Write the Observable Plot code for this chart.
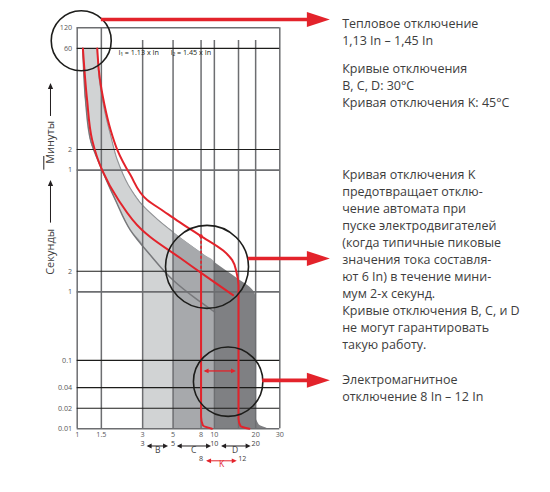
<!DOCTYPE html>
<html><head><meta charset="utf-8">
<script src="https://cdn.jsdelivr.net/npm/d3@7"></script>
<script src="https://cdn.jsdelivr.net/npm/@observablehq/plot@0.6"></script>
<style>
html,body{margin:0;padding:0;background:#fff;}
#chart{width:550px;height:492px;}
</style></head><body><div id="chart"></div>
<script>
// ---------------- data ----------------
const yTickValues = [0.01, 0.02, 0.04, 0.1, 1, 2, 60, 120, 3600, 7200];
const yTickLabels = ["0.01", "0.02", "0.04", "0.1", "1", "2", "1", "2", "60", "120"];
const xTickValues = [1, 1.5, 3, 5, 8, 10, 20, 30];
const xTickLabels = ["1", "1.5", "3", "5", "8", "10", "20", "30"];
const vGrid = [1, 1.5, 3, 5, 8, 10, 15, 20, 30];
const vGridFull = [1, 1.5, 30];
const vGridTop = 4700;
const hGridDark = [0.02, 0.04, 0.1, 2, 120, 3600];
const hGridGrey = [0.01, 1, 60, 7200];

// thermal band edges: seconds vs current multiple (x In)
const thermLoT = [3600, 641, 166, 60, 22, 8.0, 3.45, 1.48, 0.81, 0.505];
const thermLoX = [1.10, 1.15, 1.25, 1.52, 1.90, 2.44, 3.41, 5.01, 7.25, 10.1];
const thermHiT = [3600, 1260, 457, 197, 85, 36.5, 18.6, 11.2, 7.48, 3.81, 2.08, 1.17, 0.75];
const thermHiX = [1.40, 1.45, 1.58, 1.75, 1.96, 2.36, 2.98, 3.90, 5.0, 7.88, 12.0, 18.2, 21];

// magnetic ranges of B, C, D
const curveNames = ["B", "C", "D"];
const magLo = [3, 5, 10];
const magHi = [5, 10, 20];
const dFootT = [0.016, 0.0115, 0.01];
const dFootX = [20, 21.2, 25];

// K curve (red)
const kLoT = [3600, 641, 166, 60, 22, 8.0, 6.32, 3.12, 1.64, 0.895];
const kLoX = [1.10, 1.18, 1.285, 1.52, 2.0, 2.97, 3.41, 5.64, 8.86, 13.7];
const kHiT = [3600, 1489, 542, 233, 119, 51.2, 22, 15.2, 11.0, 6.65, 4.01, 2.91, 1.94, 1.25, 0.014, 0.011, 0.01];
const kHiX = [1.40, 1.45, 1.58, 1.75, 1.96, 2.44, 3.24, 4.24, 5.36, 7.88, 11.6, 13.5, 14.5, 15, 15, 15.5, 18.0];
const kMagLo = 8;
const kFootT = [0.015, 0.0112, 0.01];
const kFootX = [8, 8.25, 9.6];
const kRangeDraw = [8, 16];
const kRangeLabels = ["8", "12"];

// annotations
const circles = [{x: 1.07, t: 4655}, {x: 8.84, t: 2.32}, {x: 12.6, t: 0.0488}];
const circleR = [30, 41.5, 34.7];
const calloutArrows = [{t: 9500, from: 1.5}, {t: 3.08, from: 17.7}, {t: 0.051, from: 22.5}];
const calloutTip = 69.5, calloutShaftEnd = 50;
const textBlocks = [
  {text: "Тепловое отключение\n1,13 In – 1,45 In", dy: -12.1},
  {text: "Кривые отключения\nB, C, D: 30°C\nКривая отключения K: 45°C", dy: 33.3},
  {text: "Кривая отключения K\nпредотвращает отклю-\nчение автомата при\nпуске электродвигателей\n(когда типичные пиковые\nзначения тока составля-\nют 6 In) в течение мини-\nмум 2-х секунд.\nКривые отключения B, C, и D\nне могут гарантировать\nтакую работу.", dy: 138.9},
  {text: "Электромагнитное\nотключение 8 In – 12 In", dy: 343.9}
];

// ---------------- helpers ----------------
const lg = Math.log10;
function at(ts, xs, t) {
  if (t >= ts[0]) return xs[0];
  for (let i = 0; i < ts.length - 1; i++) {
    if (t <= ts[i] && t >= ts[i + 1]) {
      const f = (lg(ts[i]) - lg(t)) / (lg(ts[i]) - lg(ts[i + 1]));
      return 10 ** (lg(xs[i]) + f * (lg(xs[i + 1]) - lg(xs[i])));
    }
  }
  return Infinity;
}
function cross(ts, xs, cap) {
  for (let i = 0; i < ts.length - 1; i++) {
    if (xs[i] <= cap && xs[i + 1] >= cap) {
      const f = (lg(cap) - lg(xs[i])) / (lg(xs[i + 1]) - lg(xs[i]));
      return 10 ** (lg(ts[i]) + f * (lg(ts[i + 1]) - lg(ts[i])));
    }
  }
  return null;
}
function bandRows(i) {
  const lo = magLo[i], hi = magHi[i];
  const set = new Set([...thermLoT, ...thermHiT, 0.01]);
  const a = cross(thermLoT, thermLoX, lo), b = cross(thermHiT, thermHiX, hi);
  if (a) set.add(a);
  if (b) set.add(b);
  let rows = [...set].filter(t => t <= 3600 && t >= 0.01).sort((p, q) => q - p)
    .map(t => ({t, x1: Math.min(at(thermLoT, thermLoX, t), lo), x2: Math.min(at(thermHiT, thermHiX, t), hi)}));
  if (curveNames[i] === "D") {
    rows = rows.filter(r => r.t > dFootT[0]);
    dFootT.forEach((t, j) => rows.push({t, x1: lo, x2: dFootX[j]}));
  }
  return rows;
}
const pts = (ts, xs) => ts.map((t, i) => ({t, x: xs[i]}));

const RED = "#e3232b";
const headR = (len, half) => ({draw(c) { c.moveTo(0, 0); c.lineTo(-len, -half); c.lineTo(-len, half); c.closePath(); }});
const headL = (len, half) => ({draw(c) { c.moveTo(0, 0); c.lineTo(len, -half); c.lineTo(len, half); c.closePath(); }});
const headU = (len, half) => ({draw(c) { c.moveTo(0, 0); c.lineTo(-half, len); c.lineTo(half, len); c.closePath(); }});

function dblArrow(xa, xb, insA, insB, y, dy, color, w) {
  return [
    Plot.ruleY([y], {x1: xa, x2: xb, insetLeft: insA + 2, insetRight: insB + 2, dy, stroke: color, strokeWidth: w}),
    Plot.dot([xa], {x: d => d, y: y, dx: insA, dy, r: 3, symbol: headL(5, 2.4), fill: color, stroke: "none"}),
    Plot.dot([xb], {x: d => d, y: y, dx: -insB, dy, r: 3, symbol: headR(5, 2.4), fill: color, stroke: "none"})
  ];
}

const bandColors = ["#d1d3d4", "#a7a9ac", "#7f8083"];
const kLoCross8 = cross(kLoT, kLoX, kMagLo);
const kHiCross8 = cross(kHiT, kHiX, kMagLo);
const hiCross5 = cross(thermHiT, thermHiX, magLo[1]);

const marks = [];
// bands: D, C, B
[2, 1, 0].forEach(i => {
  marks.push(Plot.areaX(bandRows(i), {y: "t", x1: "x1", x2: "x2", fill: bandColors[i], curve: "monotone-y"}));
});
// thermal edge strokes
marks.push(Plot.line(pts(thermLoT, thermLoX), {x: "x", y: "t", stroke: "#77787b", strokeWidth: 1.5, curve: "monotone-y"}));
marks.push(Plot.line(pts(thermHiT, thermHiX).filter(d => d.t > hiCross5).concat([{t: hiCross5, x: magLo[1]}]), {x: "x", y: "t", stroke: "#939598", strokeWidth: 1.1, curve: "monotone-y"}));
// grid
marks.push(Plot.ruleX(vGrid, {x: d => d, y1: 0.01, y2: d => vGridFull.includes(d) ? 7200 : vGridTop, stroke: "#6d6e71", strokeWidth: 1.5}));
marks.push(Plot.ruleY(hGridGrey, {y: d => d, x1: 1, x2: 30, stroke: "#6d6e71", strokeWidth: 1.6}));
marks.push(Plot.ruleY(hGridDark, {y: d => d, x1: 1, x2: 30, stroke: "#1d1d1b", strokeWidth: 1.1}));
// tick labels
marks.push(Plot.text(yTickValues, {x: 1, y: d => d, dx: -5, text: (d, i) => yTickLabels[i], textAnchor: "end", fontSize: 7.2, fill: "#58595b"}));
marks.push(Plot.text(xTickValues, {x: d => d, frameAnchor: "bottom", dy: 8, text: (d, i) => xTickLabels[i], fontSize: 7.2, fill: "#58595b"}));
// K curve
marks.push(Plot.line(pts(kLoT, kLoX), {x: "x", y: "t", stroke: RED, strokeWidth: 2, curve: "monotone-y"}));
marks.push(Plot.line(pts(kHiT, kHiX), {x: "x", y: "t", stroke: RED, strokeWidth: 2, curve: "monotone-y"}));
marks.push(Plot.ruleX([kMagLo], {x: d => d, y1: kHiCross8, y2: kLoCross8, stroke: RED, strokeWidth: 1.6, strokeDasharray: "3,2"}));
marks.push(Plot.line([{t: kLoCross8, x: kMagLo}, ...pts(kFootT, kFootX)], {x: "x", y: "t", stroke: RED, strokeWidth: 2, curve: "monotone-y"}));
marks.push(Plot.dot([kMagLo], {x: d => d, y: kHiCross8, r: 1.8, fill: RED, stroke: "none"}));
// red double arrow within bottom circle
marks.push(...dblArrow(8, 15, 2.5, 2.5, 0.07, 0, RED, 1.3));
// labels I1, I2
marks.push(Plot.text(["I₁ = 1.13 x In", "I₂ = 1.45 x In"], {x: (d, i) => [2.0, 4.8][i], y: 3150, text: d => d, textAnchor: "start", fontSize: 7.2, fill: "#231f20"}));
// circles
circles.forEach((c, i) => marks.push(Plot.dot([c], {x: "x", y: "t", r: circleR[i], stroke: "#1d1d1b", strokeWidth: 1.6, fill: "none"})));
// callout arrows
calloutArrows.forEach(a => {
  marks.push(Plot.ruleY([a], {y: "t", x1: a.from, x2: calloutShaftEnd, stroke: RED, strokeWidth: 3.6}));
  marks.push(Plot.dot([a], {x: calloutTip, y: "t", r: 5, symbol: headR(23, 7.5), fill: RED, stroke: "none"}));
});
// right text
textBlocks.forEach(b => marks.push(Plot.text([b], {text: "text", frameAnchor: "top-right", dx: 62.4, dy: b.dy, textAnchor: "start", lineAnchor: "top", lineHeight: 1.36, fontSize: 12.5, fill: "#3d3d3d"})));
// y-axis titles and arrows
marks.push(Plot.text(["Секунды"], {x: 1, y: 3.85, dx: -26.7, rotate: -90, text: d => d, fontSize: 11, fill: "#414042"}));
marks.push(Plot.text(["Минуты"], {x: 1, y: 153, dx: -26.7, rotate: -90, text: d => d, fontSize: 11, fill: "#414042"}));
marks.push(Plot.ruleX([1], {y1: 10.1, y2: 40, dx: -26.7, stroke: "#231f20", strokeWidth: 1}));
marks.push(Plot.dot([1], {x: d => d, y: 43.2, dx: -26.7, r: 3, symbol: headU(6, 2.6), fill: "#231f20", stroke: "none"}));
marks.push(Plot.ruleX([1], {y1: 365, y2: 1050, dx: -26.7, stroke: "#231f20", strokeWidth: 1}));
marks.push(Plot.dot([1], {x: d => d, y: 1125, dx: -26.7, r: 3, symbol: headU(6, 2.6), fill: "#231f20", stroke: "none"}));
marks.push(Plot.ruleX([1], {y1: 60, y2: 95, dx: -33.4, stroke: "#231f20", strokeWidth: 1}));
// bottom range rows
const rowY = 0.01;
marks.push(Plot.text([3, 5, 10, 20], {x: d => d, frameAnchor: "bottom", dy: 17.2, text: d => String(d), fontSize: 7.2, fill: "#414042"}));
marks.push(...dblArrow(3, 5, 4, 5, rowY, 17.2, "#231f20", 1));
marks.push(...dblArrow(5, 10, 3.7, 3.3, rowY, 17.2, "#231f20", 1));
marks.push(...dblArrow(10, 20, 6.7, 5, rowY, 17.2, "#231f20", 1));
marks.push(Plot.text(curveNames, {x: (d, i) => Math.sqrt(magLo[i] * magHi[i]), frameAnchor: "bottom", dy: 23.8, text: d => d, fontSize: 8.5, fill: "#414042"}));
marks.push(Plot.text(kRangeLabels, {x: (d, i) => kRangeDraw[i], frameAnchor: "bottom", dy: 32, text: d => d, fontSize: 7.2, fill: "#414042"}));
marks.push(...dblArrow(kRangeDraw[0], kRangeDraw[1], 5, 5.6, rowY, 32, RED, 1));
marks.push(Plot.text(["K"], {x: Math.sqrt(kRangeDraw[0] * kRangeDraw[1]), frameAnchor: "bottom", dy: 38, text: d => d, fontSize: 8.5, fill: RED}));

const chart = Plot.plot({
  width: 550, height: 492,
  marginLeft: 76.7, marginRight: 270.7, marginTop: 27.3, marginBottom: 63.7,
  style: {fontFamily: "'Open Sans', sans-serif", fontSize: "7.5px", color: "#58595b", background: "white", overflow: "visible"},
  x: {type: "log", domain: [1, 30], axis: null},
  y: {type: "log", domain: [0.01, 7200], axis: null},
  marks
});
document.getElementById("chart").appendChild(chart);
</script>
</body></html>
